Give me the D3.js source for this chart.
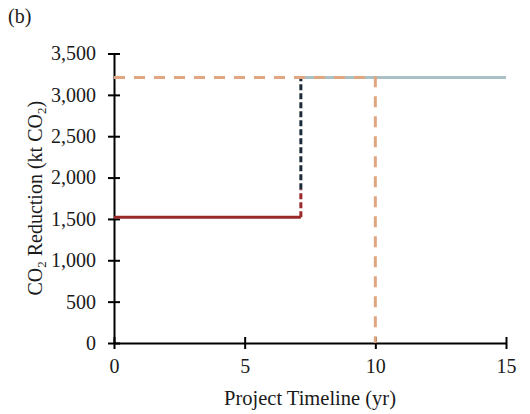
<!DOCTYPE html>
<html><head><meta charset="utf-8">
<script src="https://cdn.jsdelivr.net/npm/d3@7"></script>
<style>body{margin:0;background:#fff}svg text{font-family:"Liberation Serif","Times New Roman",serif;fill:#1a1a1a}</style>
</head><body>
<svg id="c" width="530" height="414"></svg>
<script>
const xTicks = [0, 5, 10, 15];
const yTicks = [0, 500, 1000, 1500, 2000, 2500, 3000, 3500];
// series (x in yr, y in kt CO2)
const redSolid   = [[0, 1520], [7.15, 1520]];
const redDashed  = [[7.15, 1520], [7.15, 1860]];
const navyDashed = [[7.15, 1860], [7.15, 3210]];
const greySolid  = [[7.15, 3210], [15, 3210]];
const orangeDashed = [[0, 3210], [10, 3210], [10, 0]];

const svg = d3.select("#c");
const x = d3.scaleLinear().domain([0, 15]).range([114, 506]);
const y = d3.scaleLinear().domain([0, 3500]).range([343, 53.5]);
const line = d3.line().x(d => x(d[0])).y(d => y(d[1]));

// axes
const gx = svg.append("g").attr("transform", `translate(0,${y(0)})`)
  .call(d3.axisBottom(x).tickValues(xTicks).tickSize(0).tickPadding(16));
const gy = svg.append("g").attr("transform", `translate(${x(0)},0)`)
  .call(d3.axisLeft(y).tickValues(yTicks).tickSize(0).tickPadding(18).tickFormat(d3.format(",")));
[gx, gy].forEach(g => {
  g.select(".domain").attr("stroke", "#000").attr("stroke-width", 2);
  g.selectAll("text").attr("font-size", 20).attr("fill", "#1a1a1a")
    .attr("font-family", "Liberation Serif, serif");
});
gx.selectAll(".tick").append("line").attr("y1", -6).attr("y2", 6).attr("stroke", "#000").attr("stroke-width", 2);
gy.selectAll(".tick").append("line").attr("x1", -6).attr("x2", 6).attr("stroke", "#000").attr("stroke-width", 2);

// series
svg.append("path").attr("d", line(redSolid)).attr("fill", "none").attr("stroke", "#9a2a2a").attr("stroke-width", 3);
svg.append("path").attr("d", line(redDashed)).attr("fill", "none").attr("stroke", "#9a2a2a").attr("stroke-width", 3).attr("stroke-dasharray", "6,3");
svg.append("path").attr("d", line(navyDashed)).attr("fill", "none").attr("stroke", "#1c2b3a").attr("stroke-width", 3).attr("stroke-dasharray", "6,3");
svg.append("path").attr("d", line(greySolid)).attr("fill", "none").attr("stroke", "#a9c0c4").attr("stroke-width", 3);
svg.append("path").attr("d", line(orangeDashed)).attr("fill", "none").attr("stroke", "#dfa680").attr("stroke-width", 3).attr("stroke-dasharray", "11,9");

// titles
svg.append("text").attr("x", (x(0) + x(15)) / 2).attr("y", 405).attr("text-anchor", "middle")
  .attr("font-size", 20.5).text("Project Timeline (yr)");
const yt = svg.append("text").attr("transform", `translate(42,${(y(0) + y(3500)) / 2}) rotate(-90)`)
  .attr("text-anchor", "middle").attr("font-size", 20);
yt.append("tspan").text("CO");
yt.append("tspan").attr("font-size", 13).attr("dy", 4).text("2");
yt.append("tspan").attr("dy", -4).text(" Reduction (kt CO");
yt.append("tspan").attr("font-size", 13).attr("dy", 4).text("2");
yt.append("tspan").attr("dy", -4).text(")");
svg.append("text").attr("x", 8).attr("y", 23).attr("font-size", 20).text("(b)");
</script>
</body></html>
